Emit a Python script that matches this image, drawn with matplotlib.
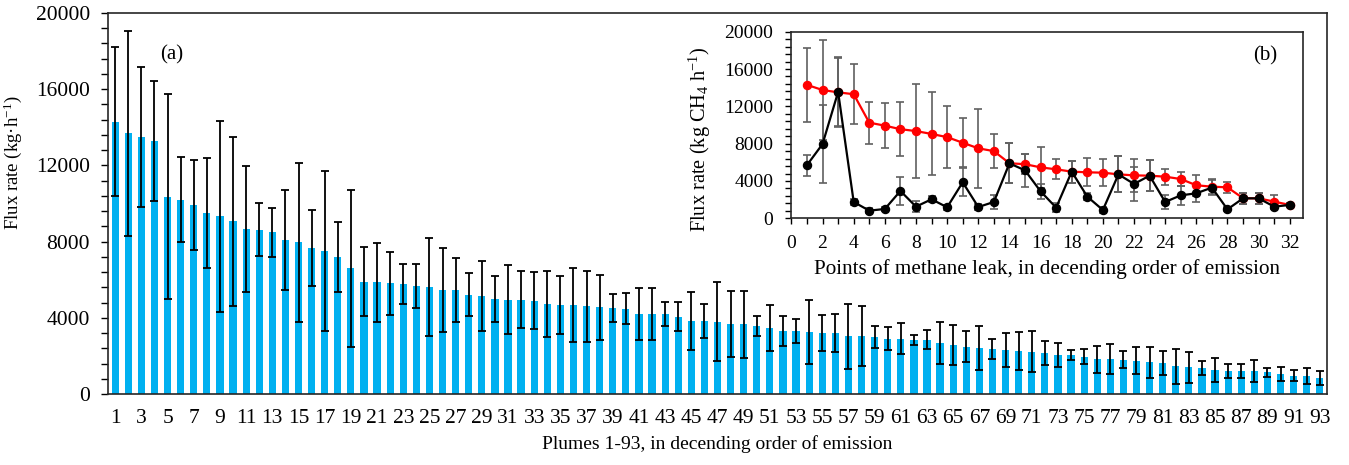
import numpy as np
import matplotlib
matplotlib.use('Agg')
import matplotlib.pyplot as plt
from matplotlib.ticker import MultipleLocator

# Times-like look
plt.rcParams['font.family'] = ['Liberation Serif', 'DejaVu Serif']
plt.rcParams['mathtext.fontset'] = 'custom'
plt.rcParams['mathtext.rm'] = 'Liberation Serif'
plt.rcParams['mathtext.it'] = 'Liberation Serif:italic'

# (a) flux of the 93 plumes, with error bars
plumes = np.arange(1, 94)
flux = [14300, 13700, 13490, 13280, 10360, 10200, 9900, 9500, 9330, 9060,
        8660, 8630, 8490, 8080, 7960, 7660, 7510, 7180, 6600, 5900,
        5860, 5820, 5790, 5670, 5630, 5460, 5460, 5210, 5140, 4990,
        4950, 4950, 4900, 4710, 4670, 4670, 4600, 4550, 4510, 4480,
        4200, 4200, 4200, 4060, 3830, 3830, 3800, 3660, 3660, 3570,
        3480, 3310, 3310, 3260, 3220, 3190, 3030, 3030, 2990, 2910,
        2910, 2840, 2840, 2680, 2570, 2490, 2420, 2350, 2310, 2260,
        2220, 2140, 2050, 2050, 1960, 1820, 1820, 1790, 1750, 1660,
        1630, 1450, 1400, 1370, 1260, 1210, 1210, 1210, 1140, 1050,
        960, 950, 840]
flux_err = [3930, 5380, 3670, 3170, 5390, 2220, 2360, 2900, 5000, 4420,
            3330, 1370, 1300, 2620, 4170, 2000, 4220, 1830, 4110, 1800,
            2080, 1650, 1040, 1150, 2580, 2190, 1700, 1120, 1840, 1200,
            1820, 1510, 1480, 1740, 1510, 1920, 1850, 1690, 750, 810,
            1360, 1340, 620, 750, 1530, 890, 2060, 1730, 1770, 540,
            1200, 780, 640, 1670, 945, 990, 1700, 1570, 590, 610,
            810, 250, 500, 1090, 1060, 820, 1150, 520, 890, 1010,
            1080, 630, 650, 250, 380, 700, 780, 450, 720, 800,
            650, 910, 800, 370, 640, 390, 350, 600, 230, 380,
            290, 430, 380]

# (b) the 32 methane leak points, two series
leak_points = np.arange(1, 33)
leak_red = [14300, 13750, 13500, 13300, 10250, 9930, 9550, 9350, 9040, 8700,
            8100, 7500, 7200, 5900, 5800, 5460, 5250, 5000, 4930, 4890,
            4710, 4600, 4570, 4460, 4210, 3540, 3390, 3320, 2150, 2140,
            1790, 1430]
leak_red_err = [3950, 5380, 3670, 3200, 2250, 2400, 2900, 5000, 4450, 3340,
                2620, 4250, 1800, 2130, 1100, 2200, 1090, 1180, 1520, 1480,
                1930, 1800, 1680, 840, 750, 1100, 790, 590, 570, 570,
                730, 200]
leak_black = [5700, 7960, 13540, 1750, 820, 1000, 2930, 1250, 2040, 1180,
              3860, 1210, 1750, 5890, 5140, 2890, 1140, 5000, 2320, 890,
              4710, 3680, 4570, 1750, 2460, 2680, 3290, 960, 2140, 2140,
              1250, 1430]
leak_black_err = [1130, 4160, 3700, 350, 250, 250, 1500, 620, 300, 250,
                  1500, 300, 750, 2130, 1790, 800, 500, 1180, 400, 300,
                  1930, 1790, 1680, 750, 1000, 900, 790, 200, 570, 570,
                  300, 200]

W, H = 1349, 465
fig = plt.figure(figsize=(W / 100, H / 100), dpi=100)

# main chart
ax = fig.add_axes([108 / W, 1 - 394 / H, (1327 - 108) / W, (394 - 13) / H])
ax.bar(plumes, flux, width=0.55, color='#00b0f0', yerr=flux_err,
       error_kw=dict(ecolor='black', elinewidth=1.3, capsize=3, capthick=1.3))
ax.set_xlim(0.45, 93.55)
ax.set_ylim(0, 20000)
ax.set_xticks(plumes[::2])
ax.set_xticklabels([str(p) for p in plumes[::2]])
ax.yaxis.set_major_locator(MultipleLocator(4000))
ax.yaxis.set_minor_locator(MultipleLocator(800))
ax.tick_params(axis='x', length=0, pad=11, labelsize=15.5)
ax.tick_params(axis='y', which='both', direction='out', length=5, width=1,
               pad=8, labelsize=15.5)
for s in ax.spines.values():
    s.set_linewidth(1.2)
    s.set_color('#262626')
ax.set_ylabel('Flux rate (kg·h$^{-1}$)', fontsize=13.5)
ax.yaxis.set_label_coords(-0.069, 0.606)
ax.set_xlabel('Plumes 1-93, in decending order of emission', fontsize=14, labelpad=5)
ax.text(0.0427, 0.89, '(a)', transform=ax.transAxes, fontsize=15, va='center')

# inset chart
ax2 = fig.add_axes([791.4 / W, 1 - 218.3 / H, (1303 - 791.4) / W, (218.3 - 31.7) / H])
ax2.errorbar(leak_points, leak_red, yerr=leak_red_err, fmt='none',
             ecolor='#606060', elinewidth=1.2, capsize=2.6, capthick=1.2, zorder=2)
ax2.errorbar(leak_points, leak_black, yerr=leak_black_err, fmt='none',
             ecolor='#606060', elinewidth=1.2, capsize=2.6, capthick=1.2, zorder=2)
ax2.plot(leak_points, leak_red, color='#ff0000', marker='o', markersize=5.8,
         linewidth=1.6, zorder=3)
ax2.plot(leak_points, leak_black, color='black', marker='o', markersize=5.8,
         linewidth=1.6, zorder=4)
ax2.set_xlim(0, 32.85)
ax2.set_ylim(0, 20000)
ax2.xaxis.set_major_locator(MultipleLocator(2))
ax2.xaxis.set_minor_locator(MultipleLocator(1))
ax2.yaxis.set_major_locator(MultipleLocator(4000))
ax2.yaxis.set_minor_locator(MultipleLocator(800))
ax2.tick_params(which='both', direction='out', length=4, width=1, labelsize=14)
ax2.tick_params(axis='x', pad=8)
ax2.tick_params(axis='y', pad=9)
for s in ax2.spines.values():
    s.set_linewidth(1.2)
    s.set_color('#262626')
ax2.set_ylabel('Flux rate (kg CH$_4$ h$^{-1}$)', fontsize=14.7)
ax2.yaxis.set_label_coords(-0.153, 0.425)
ax2.set_xlabel('Points of methane leak, in decending order of emission', fontsize=15.2,
               labelpad=5)
ax2.text(0.902, 0.872, '(b)', transform=ax2.transAxes, fontsize=15, va='center')

fig.savefig('out.png', dpi=100)
